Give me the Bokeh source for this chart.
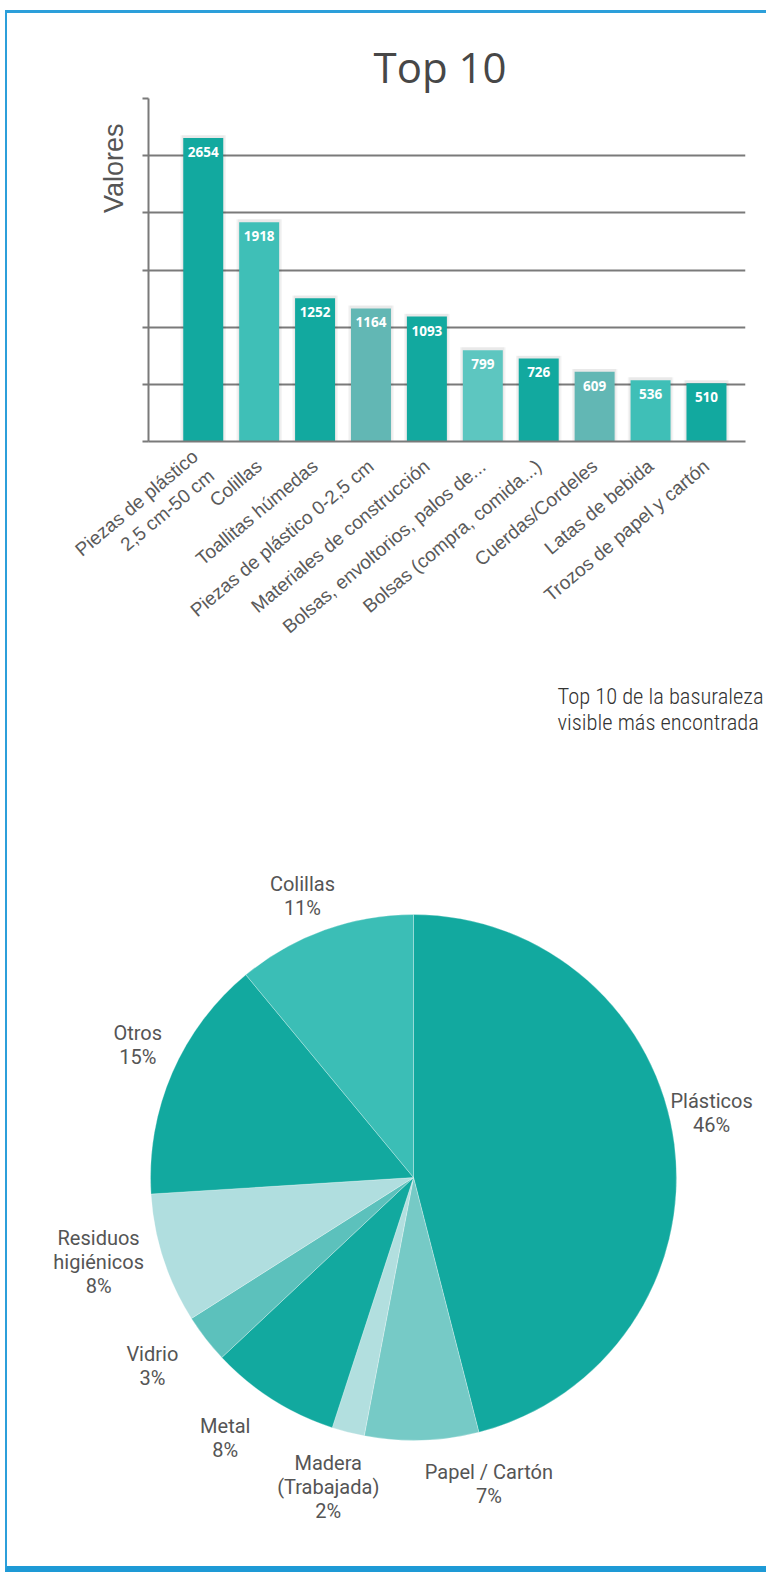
import math
from bokeh.plotting import figure
from bokeh.models import Range1d, FixedTicker, Title, ColumnDataSource
from bokeh.embed import file_html
from bokeh.resources import INLINE
from bokeh.core.properties import value

# ---------------- data ----------------
categories = ["Piezas de plástico\n2,5 cm-50 cm", "Colillas", "Toallitas húmedas",
              "Piezas de plástico 0-2,5 cm", "Materiales de construcción",
              "Bolsas, envoltorios, palos de...", "Bolsas (compra, comida...)",
              "Cuerdas/Cordeles", "Latas de bebida", "Trozos de papel y cartón"]
counts = [2654, 1918, 1252, 1164, 1093, 799, 726, 609, 536, 510]
y_ticks = [0, 500, 1000, 1500, 2000, 2500, 3000]

pie_names = ["Plásticos", "Papel / Cartón", "Madera\n(Trabajada)", "Metal", "Vidrio",
             "Residuos\nhigiénicos", "Otros", "Colillas"]
pie_pct = [46, 7, 2, 8, 3, 8, 15, 11]

title_text = "Top 10"
y_label = "Valores"
caption_text = "Top 10 de la basuraleza\nvisible más encontrada"

# ---------------- styles ----------------
bar_colors = ["#12A99F", "#3FBFB7", "#12A99F", "#62B7B4", "#12A99F",
              "#5DC6C0", "#12A99F", "#62B7B4", "#3FBFB7", "#12A99F"]
pie_colors = ["#12A99F", "#76CAC6", "#B2DFDF", "#12A99F", "#5CC1BC",
              "#B0DEDF", "#12A99F", "#3BBEB6"]
# label placement around the pie: angular nudge (deg) and distance (px)
label_nudge_deg = [-5, -12, 1, 3.5, 2, 3, 2.3, -1.7]
label_dist = [305, 316, 321, 321, 322, 326, 306, 303]
GRID = "#7a7a7a"
TEXT = "#555555"
BLUE = "#2C9FDA"

W = 761
H1 = 772
H2 = 790
PAGE_X0 = 7          # canvas left edge on the page
PAGE_Y0 = 13         # bar canvas top edge on the page

# bar chart frame (page pixels)
X0, X1 = -0.979, 9.698
FL, FR, FT, FB = 148, 745, 98, 441
px_per_y = (FB - FT) / 3000.0

p = figure(width=W, height=H1, x_range=Range1d(X0, X1), y_range=Range1d(0, 3000),
           output_backend="svg", toolbar_location=None,
           min_border_left=FL - PAGE_X0, min_border_right=W - (FR - PAGE_X0),
           min_border_top=FT - PAGE_Y0, min_border_bottom=H1 - (FB - PAGE_Y0))
p.outline_line_color = None
p.background_fill_color = "white"
p.border_fill_color = "white"
p.styles = {"margin-left": "5px", "margin-top": "10px",
            "border-left": f"2px solid {BLUE}", "border-top": f"3px solid {BLUE}"}

p.title.text = title_text
p.title.align = "left"
p.title.offset = 225
p.title.text_font = "Open Sans"
p.title.text_font_style = "normal"
p.title.text_font_size = "42px"
p.title.text_color = "#474747"
p.title.standoff = 8

idx = list(range(len(counts)))
src = ColumnDataSource(dict(x=idx, top=counts, color=bar_colors,
                            shadow_top=[c + 25 for c in counts],
                            lab=[str(c) for c in counts],
                            lab_y=[c - 14 / px_per_y for c in counts]))

p.vbar(x="x", top="shadow_top", width=0.715 + 0.10, source=src, color="#000000",
       alpha=0.045, line_color=None)
p.vbar(x="x", top="shadow_top", width=0.715 + 0.05, source=src, color="#000000",
       alpha=0.045, line_color=None)
p.vbar(x="x", top="top", width=0.715, source=src, color="color", line_color=None)
p.text(x="x", y="lab_y", text="lab", source=src, text_color="white",
       text_font=value("Open Sans"), text_font_style="bold", text_font_size="13.5px",
       text_align="center", text_baseline="middle")

# y axis: ticks only, no labels
p.yaxis.ticker = FixedTicker(ticks=y_ticks)
p.yaxis.major_label_overrides = {t: "" for t in y_ticks}
p.yaxis.major_label_standoff = 0
p.yaxis.major_tick_in = 0
p.yaxis.major_tick_out = 6
p.yaxis.major_tick_line_color = GRID
p.yaxis.major_tick_line_width = 2
p.yaxis.minor_tick_line_color = None
p.yaxis.axis_line_color = GRID
p.yaxis.axis_line_width = 2

p.ygrid.ticker = FixedTicker(ticks=y_ticks)
p.ygrid.grid_line_color = GRID
p.ygrid.grid_line_width = 2
p.xgrid.grid_line_color = None

# x axis with rotated category labels
p.xaxis.ticker = FixedTicker(ticks=idx)
p.xaxis.major_label_overrides = {i: c for i, c in zip(idx, categories)}
p.xaxis.major_label_orientation = math.radians(40)
p.xaxis.major_tick_line_color = None
p.xaxis.minor_tick_line_color = None
p.xaxis.axis_line_color = GRID
p.xaxis.axis_line_width = 2
p.xaxis.major_label_text_font = "Liberation Sans"
p.xaxis.major_label_text_font_size = "19px"
p.xaxis.major_label_text_color = "#5a5a5a"
p.xaxis.major_label_standoff = 16

p.add_layout(Title(text=y_label, align="right", offset=25, standoff=27,
                   text_font="Liberation Sans", text_font_size="27px",
                   text_font_style="normal", text_color=TEXT), "left")
p.add_layout(Title(text=caption_text, align="left", offset=557 - FL, standoff=65,
                   text_font="'Roboto Condensed Light', 'Roboto Condensed', 'Roboto'",
                   text_font_size="22.5px", text_font_style="normal",
                   text_line_height=1.0, text_color="#333333"), "below")

# ---------------- pie ----------------
PIE_TOP = PAGE_Y0 + H1
q = figure(width=W, height=H2, x_range=Range1d(PAGE_X0, PAGE_X0 + W),
           y_range=Range1d(0, H2), output_backend="svg", toolbar_location=None,
           min_border=0, x_axis_type=None, y_axis_type=None)
q.outline_line_color = None
q.border_fill_color = "white"
q.styles = {"margin-left": "5px", "border-left": f"2px solid {BLUE}",
            "border-bottom": "6px solid #1E9AD6"}

def qy(page_y):
    return PIE_TOP + H2 - page_y

cx, cy = 413, qy(1180)
R = 263
total = float(sum(pie_pct))
starts, ends, mids = [], [], []
acc = 0.0
for v in pie_pct:
    a0 = acc / total * 2 * math.pi
    acc += v
    a1 = acc / total * 2 * math.pi
    starts.append(math.pi / 2 - a0)
    ends.append(math.pi / 2 - a1)
    mids.append((a0 + a1) / 2)

psrc = ColumnDataSource(dict(start=starts, end=ends, color=pie_colors))
q.wedge(x=cx, y=cy, radius=R, start_angle="start", end_angle="end", direction="clock",
        color="color", line_color="white", line_width=0.6, line_alpha=0.45, source=psrc)

lx, ly, lt = [], [], []
for name, v, m, nd, d in zip(pie_names, pie_pct, mids, label_nudge_deg, label_dist):
    a = m + math.radians(nd)
    lx.append(cx + d * math.sin(a))
    ly.append(cy + d * math.cos(a))
    lt.append(f"{name}\n{v}%")
q.text(x=lx, y=ly, text=lt, text_align="center", text_baseline="middle",
       text_font=value("Roboto"), text_font_size="20px", text_color=TEXT,
       text_line_height=1.0)

open("out.html", "w").write(file_html([p, q], INLINE, title="Top 10"))
